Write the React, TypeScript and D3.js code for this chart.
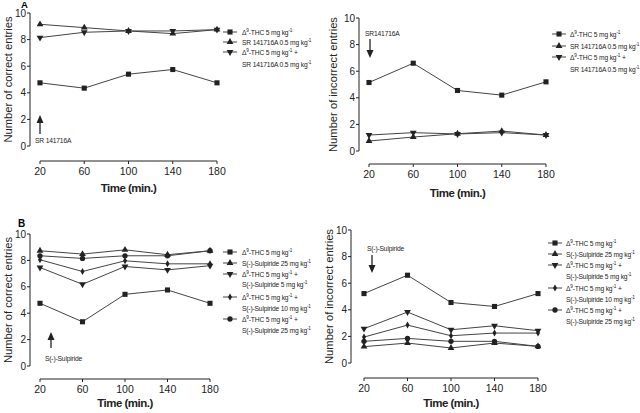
import React from "react";
import * as d3 from "d3";

const times = [20, 60, 100, 140, 180];
const yTicks = [0, 2, 4, 6, 8, 10];

// Panel A – correct entries
const aCorrectTHC = [4.75, 4.35, 5.4, 5.75, 4.75];
const aCorrectSR = [9.15, 8.9, 8.65, 8.45, 8.75];
const aCorrectTHCSR = [8.15, 8.55, 8.65, 8.65, 8.75];
// Panel A – incorrect entries
const aIncorrectTHC = [5.15, 6.6, 4.55, 4.2, 5.2];
const aIncorrectSR = [0.75, 1.05, 1.3, 1.5, 1.2];
const aIncorrectTHCSR = [1.2, 1.38, 1.28, 1.38, 1.2];
// Panel B – correct entries
const bCorrectTHC = [4.75, 3.35, 5.43, 5.76, 4.75];
const bCorrectSul25 = [8.73, 8.48, 8.8, 8.43, 8.73];
const bCorrectTHCSul5 = [7.46, 6.19, 7.54, 7.28, 7.6];
const bCorrectTHCSul10 = [8.05, 7.16, 7.97, 7.74, 7.74];
const bCorrectTHCSul25 = [8.35, 8.15, 8.35, 8.35, 8.73];
// Panel B – incorrect entries
const bIncorrectTHC = [5.22, 6.6, 4.55, 4.25, 5.22];
const bIncorrectSul25 = [1.23, 1.5, 1.13, 1.5, 1.25];
const bIncorrectTHCSul5 = [2.58, 3.83, 2.5, 2.8, 2.43];
const bIncorrectTHCSul10 = [1.95, 2.85, 2.05, 2.25, 2.25];
const bIncorrectTHCSul25 = [1.63, 1.85, 1.63, 1.63, 1.25];

type Sym = "square" | "triUp" | "triDown" | "diamond" | "circle";
type Series = { values: number[]; sym: Sym };

const FONT = "'Liberation Sans', Arial, sans-serif";
const INK = "#222";
const SX = 0.86; // horizontal condensing of small labels

function symPath(sym: Sym): { d: string; rot: number } {
  switch (sym) {
    case "square":
      return { d: d3.symbol().type(d3.symbolSquare).size(26)()!, rot: 0 };
    case "triUp":
      return { d: d3.symbol().type(d3.symbolTriangle).size(20)()!, rot: 0 };
    case "triDown":
      return { d: d3.symbol().type(d3.symbolTriangle).size(20)()!, rot: 180 };
    case "diamond":
      return { d: d3.symbol().type(d3.symbolDiamond).size(14)()!, rot: 0 };
    default:
      return { d: d3.symbol().type(d3.symbolCircle).size(22)()!, rot: 0 };
  }
}

function Marker({ x, y, sym }: { x: number; y: number; sym: Sym }) {
  const p = symPath(sym);
  return <path d={p.d} transform={`translate(${x},${y}) rotate(${p.rot})`} fill={INK} />;
}

type PanelProps = {
  x20: number;
  x180: number;
  y0: number;
  y10: number;
  axisX: number;
  axisY: number;
  series: Series[];
  yTitle: string;
  titleX: number;
  timeY: number;
};

function Panel(p: PanelProps) {
  const x = d3.scaleLinear().domain([20, 180]).range([p.x20, p.x180]);
  const y = d3.scaleLinear().domain([0, 10]).range([p.y0, p.y10]);
  const line = d3
    .line<number>()
    .x((_, i) => x(times[i]))
    .y((v) => y(v));
  return (
    <g fontFamily={FONT} fill={INK}>
      <line x1={p.axisX} x2={p.axisX} y1={y(0)} y2={y(10)} stroke={INK} strokeWidth={1} />
      {yTicks.map((t) => (
        <g key={t}>
          <line x1={p.axisX - 3} x2={p.axisX} y1={y(t)} y2={y(t)} stroke={INK} />
          <text x={p.axisX - 4} y={y(t) + 3.5} textAnchor="end" fontSize={10}>
            {t}
          </text>
        </g>
      ))}
      <line x1={x(20)} x2={x(180)} y1={p.axisY} y2={p.axisY} stroke={INK} />
      {times.map((t) => (
        <g key={t}>
          <line x1={x(t)} x2={x(t)} y1={p.axisY} y2={p.axisY + 3} stroke={INK} />
          <text x={x(t)} y={p.axisY + 14} textAnchor="middle" fontSize={10.5}>
            {t}
          </text>
        </g>
      ))}
      <text
        x={(x(20) + x(180)) / 2}
        y={p.timeY}
        textAnchor="middle"
        fontSize={11.5}
        fontWeight="bold"
        letterSpacing={-0.5}
      >
        Time (min.)
      </text>
      <text
        transform={`translate(${p.titleX},${(y(0) + y(10)) / 2}) rotate(-90)`}
        textAnchor="middle"
        fontSize={11.2}
      >
        {p.yTitle}
      </text>
      {p.series.map((s, i) => (
        <g key={i}>
          <path d={line(s.values)!} fill="none" stroke="#444" strokeWidth={1} />
          {s.values.map((v, j) => (
            <Marker key={j} x={x(times[j])} y={y(v)} sym={s.sym} />
          ))}
        </g>
      ))}
    </g>
  );
}

function THC({ plus }: { plus?: boolean }) {
  return (
    <>
      Δ
      <tspan dy={-3} fontSize={5.5}>
        9
      </tspan>
      <tspan dy={3}>-THC 5 mg kg</tspan>
      <tspan dy={-3} fontSize={5.5}>
        -1
      </tspan>
      <tspan dy={3}>{plus ? " +" : ""}</tspan>
    </>
  );
}

function Dose({ name }: { name: string }) {
  return (
    <>
      {name} mg kg
      <tspan dy={-3} fontSize={5.5}>
        -1
      </tspan>
    </>
  );
}

function Small({ x, y, children }: { x: number; y: number; children: React.ReactNode }) {
  return (
    <text transform={`translate(${x},${y}) scale(${SX},1)`} fontFamily={FONT} fontSize={7.8} fill={INK} letterSpacing={-0.2}>
      {children}
    </text>
  );
}

type LegendItem = { sym: Sym; lines: React.ReactNode[]; ys: number[] };

function Legend({ x1, x2, tx, items }: { x1: number; x2: number; tx: number; items: LegendItem[] }) {
  return (
    <g>
      {items.map((it, i) => (
        <g key={i}>
          <line x1={x1} x2={x2} y1={it.ys[0]} y2={it.ys[0]} stroke="#444" />
          <Marker x={(x1 + x2) / 2} y={it.ys[0]} sym={it.sym} />
          {it.lines.map((l, k) => (
            <Small key={k} x={tx} y={it.ys[k] + 3}>
              {l}
            </Small>
          ))}
        </g>
      ))}
    </g>
  );
}

function Arrow({ x, yFrom, yTo }: { x: number; yFrom: number; yTo: number }) {
  const dir = yTo < yFrom ? -1 : 1;
  const headLen = 8;
  const base = yTo - dir * headLen;
  return (
    <g>
      <line x1={x} x2={x} y1={yFrom} y2={base} stroke={INK} strokeWidth={1.3} />
      <path d={`M${x - 3.5},${base} L${x + 3.5},${base} L${x},${yTo} Z`} fill={INK} />
    </g>
  );
}

export default function App() {
  return (
    <svg width={640} height={413} style={{ position: "absolute", left: 0, top: 0, background: "#fff" }}>
      <rect width={640} height={413} fill="#fff" />
      <text x={21} y={8} fontFamily={FONT} fontWeight="bold" fontSize={9.5}>
        A
      </text>
      <text x={18} y={227} fontFamily={FONT} fontWeight="bold" fontSize={10}>
        B
      </text>

      <Panel
        x20={40}
        x180={217}
        y0={146}
        y10={13}
        axisX={30}
        axisY={161}
        yTitle="Number of correct entries"
        titleX={12}
        timeY={192}
        series={[
          { values: aCorrectTHC, sym: "square" },
          { values: aCorrectSR, sym: "triUp" },
          { values: aCorrectTHCSR, sym: "triDown" },
        ]}
      />
      <Panel
        x20={369}
        x180={546}
        y0={151}
        y10={18}
        axisX={359}
        axisY={164}
        yTitle="Number of incorrect entries"
        titleX={337}
        timeY={197}
        series={[
          { values: aIncorrectTHC, sym: "square" },
          { values: aIncorrectSR, sym: "triUp" },
          { values: aIncorrectTHCSR, sym: "triDown" },
        ]}
      />
      <Panel
        x20={40}
        x180={210}
        y0={366}
        y10={234}
        axisX={30}
        axisY={379}
        yTitle="Number of correct entries"
        titleX={12}
        timeY={407}
        series={[
          { values: bCorrectTHC, sym: "square" },
          { values: bCorrectSul25, sym: "triUp" },
          { values: bCorrectTHCSul5, sym: "triDown" },
          { values: bCorrectTHCSul10, sym: "diamond" },
          { values: bCorrectTHCSul25, sym: "circle" },
        ]}
      />
      <Panel
        x20={364}
        x180={538}
        y0={363}
        y10={230}
        axisX={351}
        axisY={378}
        yTitle="Number of incorrect entries"
        titleX={333}
        timeY={407}
        series={[
          { values: bIncorrectTHC, sym: "square" },
          { values: bIncorrectSul25, sym: "triUp" },
          { values: bIncorrectTHCSul5, sym: "triDown" },
          { values: bIncorrectTHCSul10, sym: "diamond" },
          { values: bIncorrectTHCSul25, sym: "circle" },
        ]}
      />

      <Arrow x={40} yFrom={134} yTo={115} />
      <Arrow x={370} yFrom={39} yTo={58} />
      <Arrow x={51} yFrom={348} yTo={332} />
      <Arrow x={372} yFrom={255} yTo={273} />
      <Small x={35} y={143}>SR 141716A</Small>
      <Small x={365} y={36}>SR141716A</Small>
      <Small x={45} y={361}>S(-)-Sulpiride</Small>
      <Small x={367} y={251}>S(-)-Sulpiride</Small>

      <Legend
        x1={223}
        x2={237}
        tx={242}
        items={[
          { sym: "square", lines: [<THC />], ys: [32] },
          { sym: "triUp", lines: [<Dose name="SR 141716A 0.5" />], ys: [42] },
          { sym: "triDown", lines: [<THC plus />, <Dose name="SR 141716A 0.5" />], ys: [52, 64] },
        ]}
      />
      <Legend
        x1={552}
        x2={566}
        tx={570}
        items={[
          { sym: "square", lines: [<THC />], ys: [34] },
          { sym: "triUp", lines: [<Dose name="SR 141716A 0.5" />], ys: [46] },
          { sym: "triDown", lines: [<THC plus />, <Dose name="SR 141716A 0.5" />], ys: [57, 69] },
        ]}
      />
      <Legend
        x1={223}
        x2={237}
        tx={242}
        items={[
          { sym: "square", lines: [<THC />], ys: [252] },
          { sym: "triUp", lines: [<Dose name="S(-)-Sulpiride 25" />], ys: [263] },
          { sym: "triDown", lines: [<THC plus />, <Dose name="S(-)-Sulpiride 5" />], ys: [274, 284] },
          { sym: "diamond", lines: [<THC plus />, <Dose name="S(-)-Sulpiride 10" />], ys: [297, 308] },
          { sym: "circle", lines: [<THC plus />, <Dose name="S(-)-Sulpiride 25" />], ys: [319, 330] },
        ]}
      />
      <Legend
        x1={548}
        x2={562}
        tx={566}
        items={[
          { sym: "square", lines: [<THC />], ys: [243] },
          { sym: "triUp", lines: [<Dose name="S(-)-Sulpiride 25" />], ys: [254] },
          { sym: "triDown", lines: [<THC plus />, <Dose name="S(-)-Sulpiride 5" />], ys: [265, 276] },
          { sym: "diamond", lines: [<THC plus />, <Dose name="S(-)-Sulpiride 10" />], ys: [288, 299] },
          { sym: "circle", lines: [<THC plus />, <Dose name="S(-)-Sulpiride 25" />], ys: [310, 321] },
        ]}
      />
    </svg>
  );
}
